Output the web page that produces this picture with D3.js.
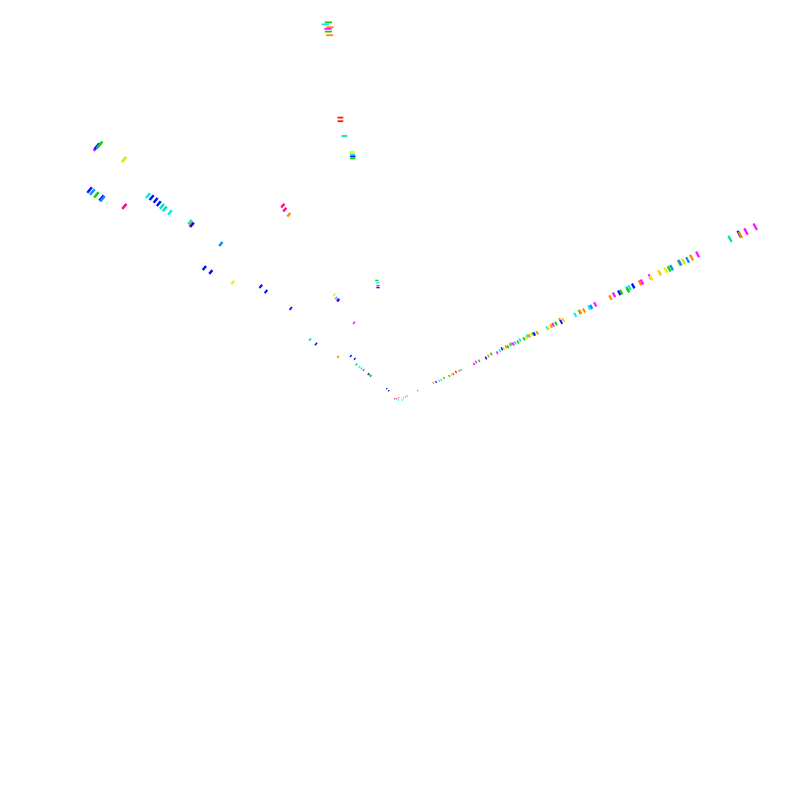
<!DOCTYPE html>
<html>
<head>
<meta charset="utf-8">
<script src="https://cdn.jsdelivr.net/npm/d3@7"></script>
<style>html,body{margin:0;padding:0;background:#fff;}svg{display:block;}</style>
</head>
<body>
<svg id="chart" width="800" height="800"></svg>
<script>
// colour keys
const palette = {
  red:"#ff1a00", orange:"#ff8a00", gold:"#ffc400", yellow:"#f2f000", yellowgreen:"#c8f000",
  green:"#10d010", darkgreen:"#009a20", teal:"#00e0b0", cyan:"#00f0f0", azure:"#0090ff",
  blue:"#0010ff", magenta:"#ff10ff", rose:"#ff0a80"
};
// marks: [x, y, colour] in data units (vertex at 0,0)
const topMarks = [
  [-17.9,94.4,"green"],[-18.7,93.9,"cyan"],[-17.5,93.2,"orange"],[-18.0,92.8,"magenta"],
  [-17.9,92.1,"green"],[-17.6,91.2,"orange"],[-14.9,70.6,"red"],[-14.9,69.7,"red"],
  [-13.9,66.0,"teal"],[-12.0,62.0,"yellow"],[-11.9,61.4,"cyan"],[-11.8,60.9,"blue"],
  [-11.8,60.4,"green"],[-5.8,29.9,"green"],[-5.6,29.3,"cyan"],[-5.5,28.6,"magenta"],[-5.5,28.1,"blue"]
];
const leftMarks = [
  [-76.0,63.0,"magenta"],[-75.8,63.4,"blue"],[-75.3,63.6,"azure"],[-75.0,63.9,"green"],
  [-69.0,60.1,"yellowgreen"],[-77.6,52.5,"blue"],[-76.9,52.0,"azure"],[-75.9,51.3,"green"],
  [-74.6,50.5,"blue"],[-74.4,50.3,"azure"],[-68.9,48.4,"rose"],[-63.0,51.1,"cyan"],
  [-62.1,50.6,"blue"],[-61.1,49.9,"blue"],[-60.3,49.1,"blue"],[-59.5,48.4,"teal"],
  [-58.8,47.8,"teal"],[-57.5,46.9,"cyan"],[-29.3,48.6,"rose"],[-28.8,47.6,"rose"],
  [-27.8,46.3,"orange"],[-52.5,44.5,"cyan"],[-52.3,44.0,"orange"],[-52.0,43.8,"blue"],
  [-44.8,39.0,"azure"],[-48.9,33.0,"blue"],[-47.3,32.0,"blue"],[-41.8,29.4,"yellow"],
  [-34.8,28.4,"blue"],[-33.5,27.1,"blue"],[-27.3,22.9,"blue"],[-16.4,26.3,"yellow"],
  [-16.0,25.5,"cyan"],[-15.6,25.1,"magenta"],[-15.4,24.9,"blue"],[-11.5,19.3,"magenta"],
  [-22.5,15.1,"teal"],[-21.0,14.0,"blue"],[-15.5,10.8,"orange"],[-12.3,11.0,"blue"],
  [-11.3,10.3,"blue"],[-10.9,8.9,"green"],[-10.1,8.3,"cyan"],[-9.6,7.9,"cyan"],
  [-9.1,7.5,"magenta"],[-7.9,6.5,"blue"],[-7.6,6.3,"green"],[-7.3,6.0,"darkgreen"],
  [-3.3,2.8,"blue"],[-2.8,2.3,"blue"],[-1.3,0.3,"red"],[-0.8,0.3,"magenta"],
  [-0.3,0.6,"orange"],[-0.4,0.0,"cyan"]
];
const rightMarks = [
  [0.5,0.0,"cyan"],[0.9,0.5,"cyan"],[1.4,0.8,"cyan"],[1.8,1.0,"orange"],[4.4,2.3,"orange"],
  [8.3,4.3,"orange"],[9.0,4.5,"blue"],[9.8,4.8,"cyan"],[10.3,5.0,"cyan"],[11.0,5.5,"green"],
  [12.3,6.0,"green"],[12.8,6.3,"yellow"],[13.3,6.5,"rose"],[14.0,7.0,"red"],[14.8,7.3,"orange"],
  [15.3,7.5,"cyan"],[18.5,9.0,"magenta"],[19.0,9.5,"magenta"],[19.8,9.8,"green"],
  [21.5,10.5,"blue"],[22.1,11.0,"orange"],[22.8,11.5,"green"],[24.3,11.8,"magenta"],
  [25.0,12.3,"cyan"],[25.5,12.8,"blue"],[26.0,12.8,"yellow"],[26.5,13.3,"orange"],
  [27.0,13.3,"green"],[27.5,13.8,"cyan"],[27.8,14.0,"orange"],[28.3,14.0,"magenta"],
  [28.8,14.3,"cyan"],[29.5,14.5,"green"],[30.0,15.0,"cyan"],[31.0,15.3,"green"],
  [31.5,15.5,"yellow"],[31.8,16.0,"cyan"],[32.3,16.0,"orange"],[32.8,16.3,"yellow"],
  [33.3,16.5,"green"],[33.6,16.5,"blue"],[34.3,16.8,"orange"],[36.8,18.0,"cyan"],
  [37.1,18.0,"yellow"],[37.8,18.5,"orange"],[38.3,18.8,"magenta"],[39.0,19.1,"green"],
  [40.0,20.0,"orange"],[40.3,19.5,"blue"],[40.8,20.0,"gold"],[43.8,21.3,"cyan"],
  [44.9,22.0,"green"],[45.1,22.0,"orange"],[46.0,22.4,"orange"],[47.3,23.1,"cyan"],
  [47.8,23.3,"azure"],[48.8,23.9,"magenta"],[52.6,25.6,"orange"],[53.5,26.3,"magenta"],
  [54.8,26.8,"blue"],[55.3,27.0,"green"],[56.8,27.8,"cyan"],[57.0,27.5,"green"],
  [57.4,28.1,"cyan"],[58.3,28.5,"blue"],[60.0,29.3,"orange"],[60.5,29.5,"magenta"],
  [62.5,30.8,"magenta"],[62.8,30.5,"yellow"],[64.9,31.8,"gold"],[66.4,32.5,"yellow"],
  [67.3,32.8,"green"],[67.9,33.1,"azure"],[69.8,34.3,"orange"],[70.0,34.3,"azure"],
  [70.9,34.6,"yellowgreen"],[71.9,35.0,"azure"],[72.9,35.6,"orange"],[74.4,36.4,"magenta"],
  [82.5,40.3,"teal"],[84.8,41.5,"blue"],[85.1,41.3,"orange"],[86.5,42.1,"magenta"],[88.8,43.3,"magenta"]
];
// mark orientation per group (degrees, screen space)
const groupAngles = {top:0, left:-50, right:62};
const groupMaxWidth = {top:1.8, left:2.5, right:2.3};

const svg = d3.select("#chart");
const x = d3.scaleLinear().domain([-100,100]).range([0,800]);
const y = d3.scaleLinear().domain([-100,100]).range([800,0]);
const lenScale = d3.scaleLinear().domain([0,100]).range([1.5,7.5]).clamp(true);

const groups = [["top",topMarks],["left",leftMarks],["right",rightMarks]];
groups.forEach(([name, marks]) => {
  const a = groupAngles[name] * Math.PI/180;
  const dx = Math.cos(a), dy = Math.sin(a);
  const widthScale = d3.scaleLinear().domain([0,60]).range([1,groupMaxWidth[name]]).clamp(true);
  svg.append("g").attr("class","marks-"+name)
    .selectAll("line").data(marks).join("line")
    .each(function(d){
      const cx = x(d[0]), cy = y(d[1]);
      const dist = Math.hypot(d[0], d[1]);
      const L = lenScale(dist)/2;
      d3.select(this)
        .attr("x1", cx - dx*L).attr("y1", cy - dy*L)
        .attr("x2", cx + dx*L).attr("y2", cy + dy*L)
        .attr("stroke", palette[d[2]])
        .attr("stroke-width", widthScale(dist))
        .attr("stroke-linecap","butt");
    });
});
</script>
</body>
</html>
